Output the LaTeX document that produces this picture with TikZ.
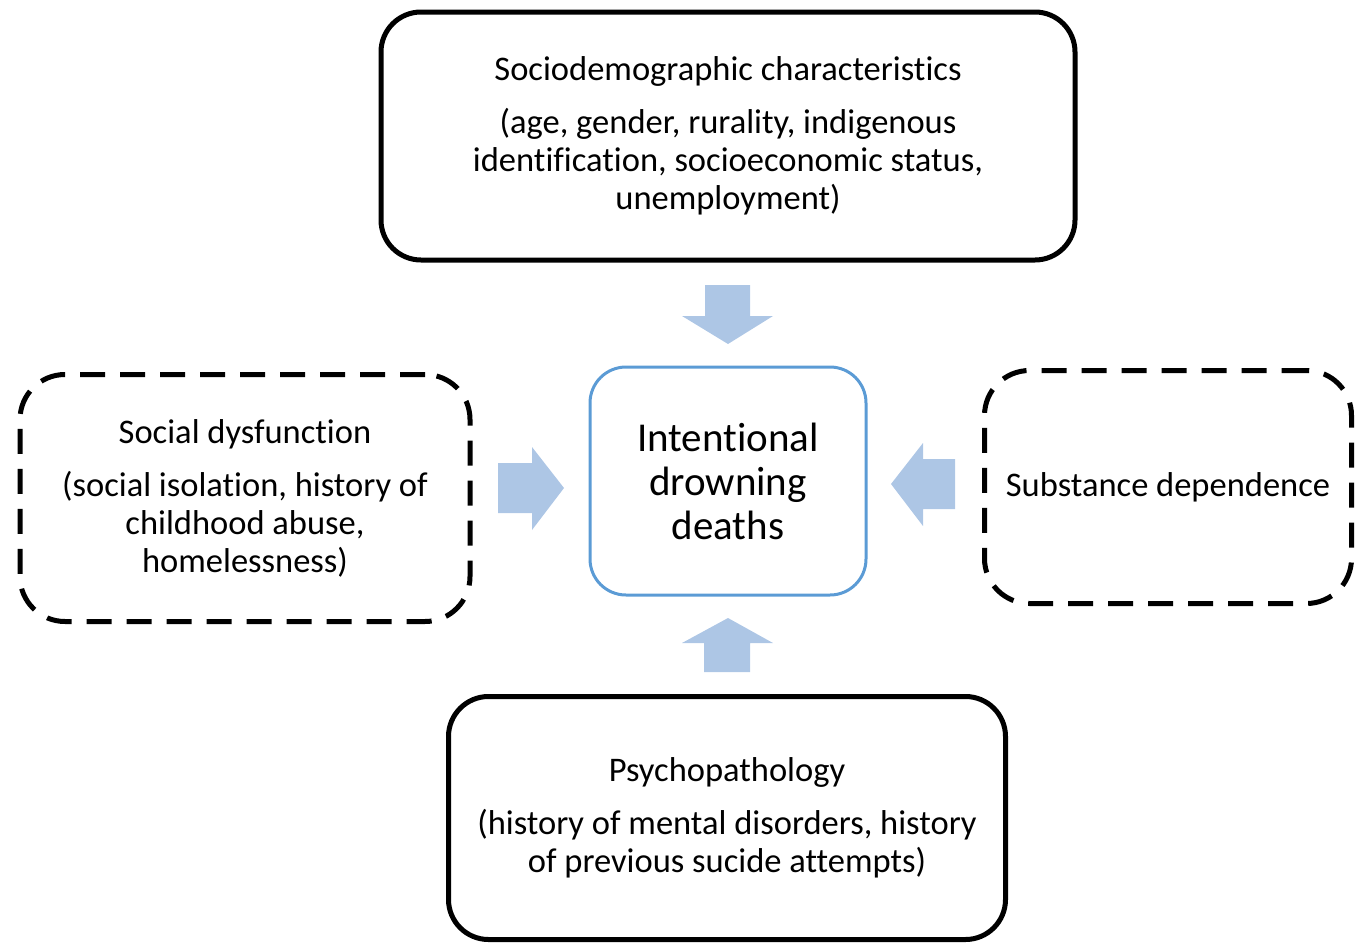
\documentclass[tikz,border=0pt]{standalone}
\usepackage{fontspec}
\setmainfont{Carlito}[Ligatures={NoCommon}]
\definecolor{arrowblue}{HTML}{ADC6E5}
\definecolor{boxblue}{HTML}{5B9BD5}
\tikzset{
  solidbox/.style={draw=black, line width=5pt, rounded corners=40pt, align=center, inner sep=0pt,
    font=\fontsize{34.5}{38}\selectfont},
  dashbox/.style={solidbox, dash pattern=on 25pt off 15pt, rounded corners=45pt},
  centerbox/.style={draw=boxblue, line width=3pt, rounded corners=36pt, align=center, inner sep=0pt,
    font=\fontsize{41}{44}\selectfont},
  blockarrow/.style={fill=arrowblue, draw=none}
}
\begin{document}
\begin{tikzpicture}[x=1pt,y=-1pt]
\useasboundingbox (0,0) rectangle (1363,945);
\node[solidbox, minimum width=694pt, minimum height=248pt] (socio) at (728,136)
  {Sociodemographic characteristics\\[15pt](age, gender, rurality, indigenous\\identification, socioeconomic status,\\unemployment)};
\node[dashbox, minimum width=450pt, minimum height=247pt] (social) at (245,498)
  {Social dysfunction\\[15pt](social isolation, history of\\childhood abuse,\\homelessness)};
\node[dashbox, minimum width=367pt, minimum height=233pt] (subst) at (1168,487)
  {Substance dependence};
\node[centerbox, minimum width=276pt, minimum height=228pt] (death) at (728,481)
  {Intentional\\drowning\\deaths};
\node[solidbox, minimum width=557pt, minimum height=243pt] (psych) at (727,818)
  {Psychopathology\\[15pt](history of mental disorders, history\\of previous sucide attempts)};
% block arrows
\fill[blockarrow] (705,285) -- (750,285) -- (750,316) -- (773,316) -- (728,344) -- (682,316) -- (705,316) -- cycle;
\fill[blockarrow] (704,672) -- (750,672) -- (750,643) -- (773,643) -- (728,618) -- (682,643) -- (704,643) -- cycle;
\fill[blockarrow] (498,463) -- (532,463) -- (532,447) -- (564,488) -- (532,530) -- (532,513) -- (498,513) -- cycle;
\fill[blockarrow] (955,459) -- (923,459) -- (923,443) -- (891,484) -- (923,526) -- (923,509) -- (955,509) -- cycle;
\end{tikzpicture}
\end{document}
